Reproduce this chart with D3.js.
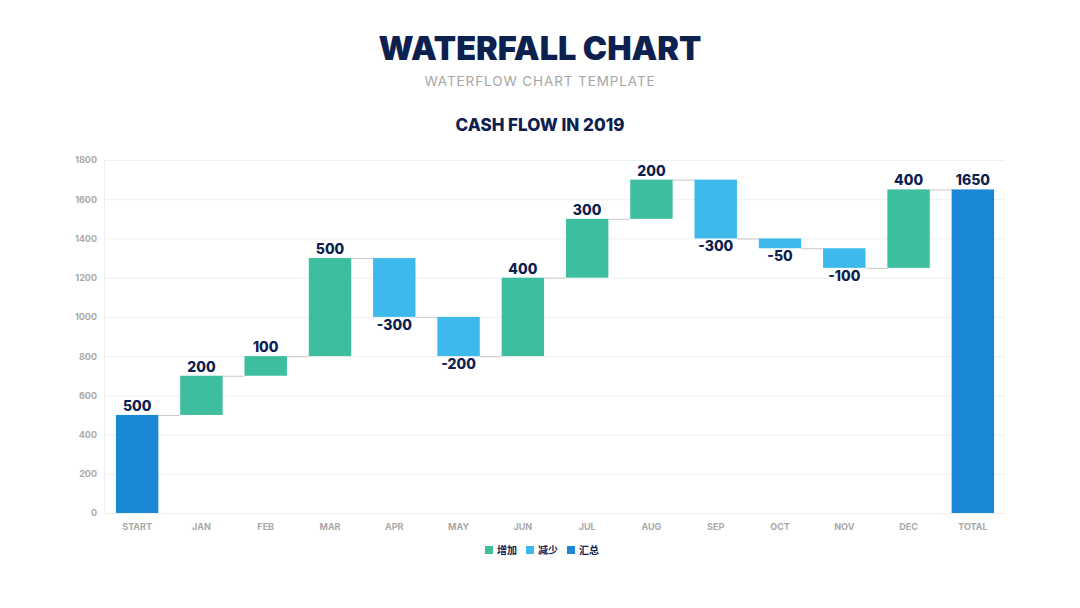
<!DOCTYPE html>
<html>
<head>
<meta charset="utf-8">
<script src="https://cdn.jsdelivr.net/npm/d3@7"></script>
<style>
  body { margin: 0; background: #fff; }
  svg { display: block; font-family: Inter, "Noto Sans", sans-serif; }
</style>
</head>
<body>
<svg id="chart" width="1080" height="608"></svg>
<script>
// data
const categories = ["START", "JAN", "FEB", "MAR", "APR", "MAY", "JUN", "JUL", "AUG", "SEP", "OCT", "NOV", "DEC", "TOTAL"];
const changes = [500, 200, 100, 500, -300, -200, 400, 300, 200, -300, -50, -100, 400, 1650];
const kinds = ["total", "up", "up", "up", "down", "down", "up", "up", "up", "down", "down", "down", "up", "total"];
const yTicks = [0, 200, 400, 600, 800, 1000, 1200, 1400, 1600, 1800];
const legendLabels = ["增加", "减少", "汇总"];

const colors = { up: "#3dbf9f", down: "#3db9eb", total: "#1b88d7" };
const navy = "#0d2150";

const svg = d3.select("#chart");
const margin = { top: 160, right: 75, bottom: 95, left: 105 };
const W = 1080, H = 608;

// titles
svg.append("text").attr("x", 540).attr("y", 60).attr("text-anchor", "middle")
  .attr("font-size", 32.5).attr("font-weight", 900).attr("fill", navy)
  .text("WATERFALL CHART");
svg.append("text").attr("x", 540).attr("y", 86).attr("text-anchor", "middle")
  .attr("font-size", 13.5).attr("fill", "#a6a6a6").attr("letter-spacing", 0.9)
  .text("WATERFLOW CHART TEMPLATE");
svg.append("text").attr("x", 540).attr("y", 131).attr("text-anchor", "middle")
  .attr("font-size", 17).attr("font-weight", 800).attr("fill", navy)
  .text("CASH FLOW IN 2019");

// build start/end for each step
let running = 0;
const steps = categories.map((c, i) => {
  let y0, y1;
  if (kinds[i] === "total") { y0 = 0; y1 = changes[i]; running = changes[i]; }
  else { y0 = running; y1 = running + changes[i]; running = y1; }
  return { cat: c, kind: kinds[i], value: changes[i], y0: y0, y1: y1, end: running };
});

const x = d3.scaleBand().domain(categories)
  .range([margin.left, W - margin.right]).paddingInner(0.34).paddingOuter(0.17);
const y = d3.scaleLinear().domain([0, 1800]).range([H - margin.bottom, margin.top]);

// grid
svg.append("g").selectAll("line").data(yTicks).enter().append("line")
  .attr("x1", margin.left).attr("x2", W - margin.right)
  .attr("y1", d => y(d) + 0.5).attr("y2", d => y(d) + 0.5)
  .attr("stroke", "#efefef");
svg.append("line").attr("x1", margin.left - 0.5).attr("x2", margin.left - 0.5)
  .attr("y1", margin.top).attr("y2", H - margin.bottom).attr("stroke", "#efefef");

// y axis labels
const yAxis = svg.append("g").attr("transform", `translate(${margin.left},0)`)
  .call(d3.axisLeft(y).tickValues(yTicks).tickFormat(d3.format("d")).tickSize(0).tickPadding(8));
yAxis.select(".domain").remove();
yAxis.selectAll("text").attr("font-size", 9).attr("font-weight", 700).attr("fill", "#a9a9a9")
  .attr("font-family", "Inter, sans-serif");

// x axis labels
const xAxis = svg.append("g").attr("transform", `translate(0,${H - margin.bottom})`)
  .call(d3.axisBottom(x).tickSize(0).tickPadding(11));
xAxis.select(".domain").remove();
xAxis.selectAll("text").attr("font-size", 9).attr("font-weight", 700).attr("fill", "#a9a9a9")
  .attr("font-family", "Inter, sans-serif");

// connectors
svg.append("g").selectAll("line").data(steps.slice(0, -1)).enter().append("line")
  .attr("x1", d => x(d.cat) + x.bandwidth())
  .attr("x2", (d, i) => x(categories[i + 1]))
  .attr("y1", d => y(d.end) + 0.5).attr("y2", d => y(d.end) + 0.5)
  .attr("stroke", "#c8c8c8").attr("stroke-width", 1);

// bars
svg.append("g").selectAll("rect").data(steps).enter().append("rect")
  .attr("x", d => x(d.cat)).attr("width", x.bandwidth())
  .attr("y", d => y(Math.max(d.y0, d.y1)))
  .attr("height", d => Math.abs(y(d.y0) - y(d.y1)))
  .attr("fill", d => colors[d.kind]);

// value labels
svg.append("g").selectAll("text").data(steps).enter().append("text")
  .attr("x", d => x(d.cat) + x.bandwidth() / 2)
  .attr("y", d => d.value >= 0 ? y(Math.max(d.y0, d.y1)) - 4 : y(Math.min(d.y0, d.y1)) + 13)
  .attr("text-anchor", "middle").attr("font-size", 14).attr("font-weight", 800)
  .attr("fill", navy)
  .text(d => d.value);

// legend
const legendKinds = ["up", "down", "total"];
const lg = svg.append("g").attr("transform", "translate(485,550)");
let lx = 0;
legendLabels.forEach((lab, i) => {
  lg.append("rect").attr("x", lx).attr("y", -4).attr("width", 8).attr("height", 8)
    .attr("fill", colors[legendKinds[i]]);
  lg.append("text").attr("x", lx + 12).attr("y", 4).attr("font-size", 10).attr("font-weight", 700)
    .attr("fill", navy).attr("font-family", "'Noto Sans CJK SC', sans-serif").text(lab);
  lx += 41;
});
</script>
</body>
</html>
